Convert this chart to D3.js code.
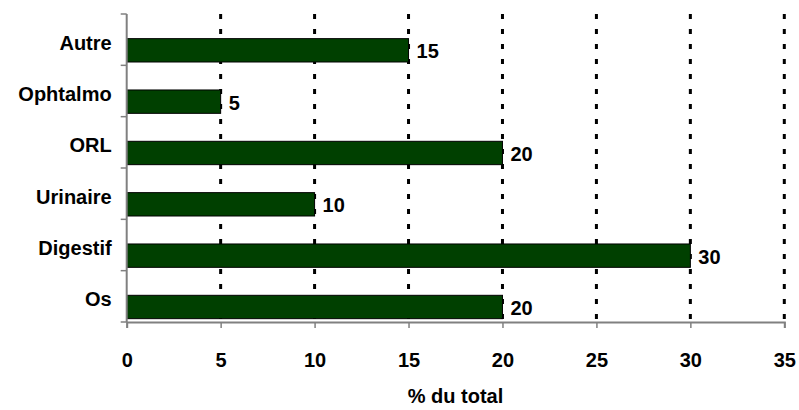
<!DOCTYPE html>
<html>
    <head>
        <meta charset="utf-8">
        <script src="https://cdn.jsdelivr.net/npm/d3@7/dist/d3.min.js" type="text/javascript"></script>
        <style>
            body { margin: 0; background: #fff; }
            text { font-family: "Liberation Sans", Arial, sans-serif; font-weight: bold; fill: #000; }
        </style>
    </head>
    <body>
    </body>
    <script>
        var width = 799;
        var height = 410;

        var categories = ["Autre", "Ophtalmo", "ORL", "Urinaire", "Digestif", "Os"];
        var values = [15, 5, 20, 10, 30, 20];
        var xTicks = [0, 5, 10, 15, 20, 25, 30, 35];
        var axisTitle = "% du total";

        var plotLeft = 126.7, plotRight = 784.3, plotTop = 14, plotBottom = 322;
        var fontSize = 20;

        var svg = d3.select("body").append("svg")
                    .attr("width", width)
                    .attr("height", height);

        var x = d3.scaleLinear().domain([0, 35]).range([plotLeft, plotRight]);
        var y = d3.scaleBand().domain(categories).range([plotTop, plotBottom]);
        var bw = y.bandwidth();

        // dashed vertical gridlines
        svg.append("g").selectAll("line")
            .data(xTicks.slice(1))
            .enter().append("line")
            .attr("x1", d => x(d)).attr("x2", d => x(d))
            .attr("y1", plotTop).attr("y2", plotBottom)
            .attr("stroke", "#000")
            .attr("stroke-width", 3)
            .attr("stroke-dasharray", "5,10");

        // bars (sit in lower half of each band, like the excel original)
        svg.append("g").selectAll("rect")
            .data(categories)
            .enter().append("rect")
            .attr("x", x(0))
            .attr("y", d => y(d) + bw * 0.48)
            .attr("width", (d, i) => x(values[i]) - x(0))
            .attr("height", bw * 0.455)
            .attr("fill", "#004000")
            .attr("stroke", "#000")
            .attr("stroke-width", 1);

        // value labels
        svg.append("g").selectAll("text")
            .data(categories)
            .enter().append("text")
            .attr("x", (d, i) => x(values[i]) + 8)
            .attr("y", d => y(d) + bw * 0.48 + bw * 0.455 / 2 + 8)
            .attr("font-size", fontSize + "px")
            .text((d, i) => values[i]);

        // x axis
        var xAxis = svg.append("g")
            .attr("transform", "translate(0," + plotBottom + ")")
            .call(d3.axisBottom(x).tickValues(xTicks).tickSize(6).tickPadding(25));
        xAxis.select(".domain").attr("stroke", "#808080").attr("stroke-width", 2);
        xAxis.selectAll(".tick line").attr("stroke", "#808080").attr("stroke-width", 1.5);
        xAxis.selectAll(".tick text")
            .style("font-family", "'Liberation Sans', Arial, sans-serif")
            .attr("font-size", fontSize + "px")
            .attr("font-weight", "bold")
            .attr("fill", "#000");

        // y axis, ticks at band edges
        var yEdges = d3.range(categories.length + 1).map(i => plotTop + i * bw);
        svg.append("line")
            .attr("x1", plotLeft).attr("x2", plotLeft)
            .attr("y1", plotTop).attr("y2", plotBottom)
            .attr("stroke", "#808080").attr("stroke-width", 2);
        svg.append("g").selectAll("line")
            .data(yEdges)
            .enter().append("line")
            .attr("x1", plotLeft - 6).attr("x2", plotLeft)
            .attr("y1", d => d).attr("y2", d => d)
            .attr("stroke", "#808080").attr("stroke-width", 1.5);

        // category labels
        svg.append("g").selectAll("text")
            .data(categories)
            .enter().append("text")
            .attr("x", plotLeft - 15)
            .attr("y", d => y(d) + bw / 2 + 10)
            .attr("text-anchor", "end")
            .attr("font-size", fontSize + "px")
            .text(d => d);

        // axis title
        svg.append("text")
            .attr("x", (plotLeft + plotRight) / 2)
            .attr("y", 403)
            .attr("text-anchor", "middle")
            .attr("font-size", fontSize + "px")
            .text(axisTitle);
    </script>
</html>
